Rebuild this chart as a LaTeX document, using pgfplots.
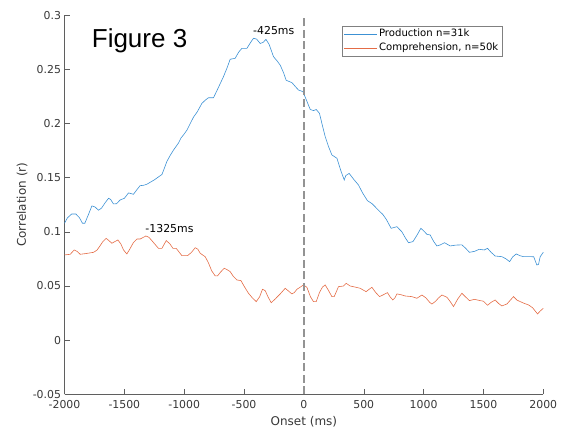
\documentclass[border=0pt]{standalone}
\usepackage{pgfplots}
\pgfplotsset{compat=1.18}
\usepackage{fontspec}
\setmainfont{DejaVu Sans}
\newfontfamily\arialfont{Liberation Sans}
\definecolor{mblue}{RGB}{60,145,212}
\definecolor{morange}{RGB}{228,108,70}
\definecolor{axgray}{RGB}{95,95,95}
\definecolor{txtgray}{RGB}{55,55,55}
\begin{document}
\begin{tikzpicture}
\begin{axis}[
  name=ax,
  scale only axis,
  width=478.8pt, height=379pt,
  xmin=-2000, xmax=2000, ymin=-0.05, ymax=0.3,
  enlargelimits=false,
  axis x line=bottom, axis y line=left,
  axis line style={-, axgray, line width=0.5pt},
  tick align=inside,
  major tick length=5pt,
  tick style={axgray, line width=0.5pt},
  xtick={-2000,-1500,-1000,-500,0,500,1000,1500,2000},
  xticklabels={-2000,-1500,-1000,-500,0,500,1000,1500,2000},
  ytick={-0.05,0,0.05,0.1,0.15,0.2,0.25,0.3},
  yticklabels={-0.05,0,0.05,0.1,0.15,0.2,0.25,0.3},
  tick label style={font=\fontsize{10.9}{12}\selectfont, text=txtgray},
  xticklabel style={yshift=-3pt},
  legend style={at={(0.579,0.973)}, anchor=north west, draw=black!50, line width=0.5pt,
    font=\fontsize{10.1}{11}\selectfont, inner xsep=2pt, inner ysep=1.8pt, row sep=1.8pt,
    nodes={inner sep=1.5pt, text height=7.4pt, text depth=2.3pt}},
  legend cell align=left,
  legend image code/.code={\draw[#1] (0pt,0pt) -- (33pt,0pt);},
  clip=false,
]
\addplot[mblue, line width=0.6pt] coordinates {
(-2000,0.108) (-1975,0.113) (-1940,0.1165) (-1905,0.1165) (-1875,0.113) (-1850,0.108)
(-1830,0.108) (-1800,0.116) (-1771,0.124) (-1745,0.123) (-1716,0.120) (-1690,0.122)
(-1660,0.127) (-1632,0.131) (-1615,0.130) (-1591,0.1258) (-1565,0.126) (-1535,0.1295)
(-1500,0.131) (-1465,0.136) (-1424,0.1347) (-1395,0.139) (-1368,0.1427) (-1340,0.143)
(-1312,0.144) (-1250,0.148) (-1186,0.153) (-1165,0.159) (-1145,0.165) (-1115,0.171)
(-1089,0.1756) (-1048,0.182) (-1025,0.187) (-1006,0.1895) (-977,0.194) (-950,0.200)
(-922,0.206) (-890,0.211) (-852,0.2187) (-820,0.222) (-797,0.2239) (-755,0.2239)
(-720,0.232) (-672,0.2433) (-640,0.252) (-616,0.2594) (-574,0.2603) (-545,0.266)
(-518,0.2695) (-476,0.2695) (-445,0.275) (-421,0.2788) (-395,0.278) (-365,0.274)
(-340,0.275) (-317,0.2778) (-290,0.273) (-254,0.2618) (-225,0.258) (-198,0.254)
(-170,0.247) (-148,0.240) (-100,0.2378) (-70,0.234) (-45,0.231) (-8,0.2295)
(20,0.222) (53,0.213) (80,0.212) (103,0.213) (130,0.2095) (155,0.198) (178,0.188)
(205,0.179) (234,0.171) (276,0.168) (310,0.156) (337,0.148) (350,0.152) (378,0.154)
(420,0.148) (456,0.1433) (490,0.136) (531,0.1288) (570,0.126) (623,0.120) (660,0.116)
(688,0.1116) (729,0.1033) (777,0.1048) (819,0.100) (850,0.094) (874,0.090) (911,0.091)
(945,0.097) (977,0.1033) (1000,0.101) (1027,0.0978) (1055,0.0971) (1085,0.091)
(1111,0.087) (1140,0.088) (1175,0.090) (1222,0.087) (1270,0.0878) (1320,0.088)
(1350,0.085) (1383,0.0811) (1425,0.082) (1465,0.0839) (1506,0.0833) (1534,0.0848)
(1565,0.081) (1598,0.0777) (1654,0.0771) (1690,0.075) (1718,0.0725) (1745,0.077)
(1774,0.0796) (1805,0.078) (1835,0.0771) (1896,0.0771) (1920,0.077) (1946,0.0694)
(1960,0.070) (1974,0.0771) (2000,0.0811)
};
\addlegendentry{Production n=31k}
\addplot[morange, line width=0.6pt] coordinates {
(-2000,0.0787) (-1952,0.0793) (-1919,0.0833) (-1895,0.082) (-1869,0.0793) (-1820,0.080)
(-1758,0.0811) (-1730,0.083) (-1708,0.0863) (-1680,0.091) (-1652,0.094) (-1630,0.092)
(-1604,0.0895) (-1580,0.091) (-1554,0.0925) (-1530,0.089) (-1507,0.0833) (-1479,0.0796)
(-1455,0.084) (-1425,0.090) (-1395,0.0934) (-1368,0.0934) (-1320,0.0962) (-1295,0.095)
(-1270,0.0919) (-1240,0.088) (-1215,0.0848) (-1186,0.0848) (-1165,0.089) (-1150,0.0919)
(-1120,0.089) (-1094,0.0848) (-1067,0.0848) (-1040,0.081) (-1019,0.078) (-972,0.078)
(-940,0.081) (-908,0.0854) (-886,0.084) (-866,0.0802) (-825,0.0771) (-800,0.072)
(-770,0.064) (-741,0.0593) (-722,0.0593) (-695,0.063) (-666,0.0664) (-640,0.065)
(-616,0.0633) (-590,0.059) (-560,0.0556) (-526,0.055) (-495,0.049) (-463,0.0433)
(-430,0.039) (-398,0.0356) (-370,0.040) (-346,0.047) (-323,0.0457) (-300,0.040)
(-273,0.0346) (-240,0.038) (-198,0.0427) (-156,0.0479) (-125,0.045) (-100,0.0427)
(-80,0.044) (-58,0.047) (-30,0.049) (-3,0.051) (25,0.0488) (55,0.040) (80,0.0356)
(103,0.0356) (130,0.044) (155,0.049) (178,0.051) (205,0.046) (234,0.0402) (253,0.0402)
(289,0.0494) (331,0.050) (353,0.0525) (387,0.050) (430,0.049) (470,0.0479) (500,0.046)
(520,0.0448) (545,0.047) (568,0.0488) (600,0.044) (632,0.0402) (665,0.042) (698,0.0439)
(720,0.040) (743,0.0371) (760,0.039) (777,0.0427) (810,0.042) (846,0.0408) (902,0.0402)
(944,0.0387) (986,0.0417) (1020,0.039) (1050,0.035) (1069,0.0334) (1097,0.0356)
(1125,0.039) (1153,0.0417) (1195,0.0396) (1220,0.036) (1250,0.031) (1285,0.038)
(1320,0.0433) (1350,0.040) (1383,0.0365) (1425,0.0377) (1473,0.0365) (1500,0.036)
(1534,0.0322) (1565,0.035) (1598,0.0371) (1625,0.034) (1654,0.0316) (1696,0.0334)
(1725,0.037) (1751,0.0402) (1780,0.037) (1807,0.0356) (1840,0.034) (1877,0.0325)
(1910,0.030) (1952,0.0242) (1975,0.027) (2000,0.0294)
};
\addlegendentry{Comprehension, n=50k}
\addplot[gray!85, line width=1.2pt, dash pattern=on 8pt off 3.5pt, forget plot] coordinates {(0,-0.05) (0,0.3)};
\node[anchor=base west, inner sep=0pt, font=\fontsize{10.9}{12}\selectfont] at (axis cs:-425,0.2825) {-425ms};
\node[anchor=base west, inner sep=0pt, font=\fontsize{10.9}{12}\selectfont] at (axis cs:-1325,0.0993) {-1325ms};
\node[anchor=base west, inner sep=0pt, font=\arialfont\fontsize{26}{28}\selectfont] at (axis cs:-1773,0.2701) {Figure 3};
\end{axis}
\node[font=\fontsize{12}{14}\selectfont, text=txtgray] at ([yshift=-27.5pt]ax.south) {Onset (ms)};
\node[rotate=90, font=\fontsize{12}{14}\selectfont, text=txtgray] at ([xshift=-42.5pt]ax.west) {Correlation (r)};
\pgfresetboundingbox
\path ([xshift=-64.5pt,yshift=-34.7pt]ax.south west) rectangle ([xshift=18.7pt,yshift=15.3pt]ax.north east);
\end{tikzpicture}
\end{document}
